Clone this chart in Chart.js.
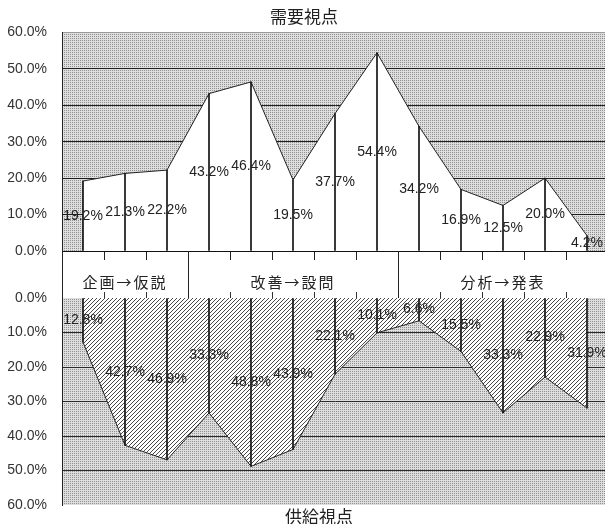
<!DOCTYPE html>
<html lang="ja">
<head>
<meta charset="utf-8">
<title>需要視点・供給視点</title>
<script src="https://cdn.jsdelivr.net/npm/chart.js@4.4.1/dist/chart.umd.min.js"></script>
<style>
  html, body { margin: 0; padding: 0; background: #fff; }
  body { width: 605px; height: 524px; overflow: hidden; position: relative; }
  #top-box { position: absolute; left: 0; top: 0; }
  #bottom-box { position: absolute; left: 0; top: 251px; }
</style>
</head>
<body>
<div id="top-box"><canvas id="demandChart" width="612" height="262"></canvas></div>
<div id="bottom-box"><canvas id="supplyChart" width="612" height="273"></canvas></div>
<script>
// 13 steps, no labels on the axis
const steps = ["1", "2", "3", "4", "5", "6", "7", "8", "9", "10", "11", "12", "13"];
const demandValues = [19.2, 21.3, 22.2, 43.2, 46.4, 19.5, 37.7, 54.4, 34.2, 16.9, 12.5, 20.0, 4.2];
const supplyValues = [12.8, 42.7, 46.9, 33.3, 48.8, 43.9, 22.1, 10.1, 6.6, 15.5, 33.3, 22.9, 31.9];
const phaseNames = ["企画→仮説", "改善→設問", "分析→発表"];
const phaseSizes = [3, 5, 5];
const yTicks = [0, 10, 20, 30, 40, 50, 60];

const topTitle = "需要視点";
const bottomTitle = "供給視点";

const numFont = "'Liberation Sans', Arial, sans-serif";
const jpFont = "'Noto Sans CJK JP', 'Noto Sans', sans-serif";

// gray dotted background like the old excel fill
function dotPattern() {
    const c = document.createElement("canvas");
    c.width = 2; c.height = 2;
    const g = c.getContext("2d");
    g.fillStyle = "#dedede";
    g.fillRect(0, 0, 2, 2);
    g.fillStyle = "#909090";
    g.fillRect(0, 0, 1, 1);
    return g.createPattern(c, "repeat");
}

// diagonal hatching for the supply area
function hatchPattern() {
    const c = document.createElement("canvas");
    c.width = 4; c.height = 4;
    const g = c.getContext("2d");
    g.fillStyle = "#ffffff";
    g.fillRect(0, 0, 4, 4);
    g.fillStyle = "#4a4a4a";
    for (let i = 0; i < 4; i++) {
        g.fillRect(i, 3 - i, 1, 1);
    }
    return g.createPattern(c, "repeat");
}

const plotBackground = {
    id: "plotBackground",
    beforeDraw(chart) {
        const a = chart.chartArea;
        const ctx = chart.ctx;
        ctx.save();
        ctx.fillStyle = dotPattern();
        ctx.fillRect(a.left, a.top, a.right - a.left, a.bottom - a.top);
        ctx.restore();
    }
};

const valueLabels = {
    id: "valueLabels",
    afterDatasetsDraw(chart) {
        const meta = chart.getDatasetMeta(0);
        const values = chart.data.datasets[0].data;
        const base = chart.scales.y.getPixelForValue(0);
        const ctx = chart.ctx;
        ctx.save();
        ctx.font = "14px " + numFont;
        ctx.fillStyle = "#222";
        ctx.textAlign = "center";
        ctx.textBaseline = "middle";
        meta.data.forEach((pt, i) => {
            ctx.fillText(values[i].toFixed(1) + "%", pt.x, (pt.y + base) / 2);
        });
        ctx.restore();
    }
};

const phaseBand = {
    id: "phaseBand",
    afterDraw(chart) {
        const x = chart.scales.x;
        const a = chart.chartArea;
        const ctx = chart.ctx;
        const half = (x.getPixelForValue(1) - x.getPixelForValue(0)) / 2;
        ctx.save();
        ctx.strokeStyle = "#222";
        ctx.lineWidth = 1;

        ctx.beginPath();
        const lx = Math.round(a.left) + 0.5;
        ctx.moveTo(lx, 0);
        ctx.lineTo(lx, a.top);
        ctx.stroke();

        ctx.font = "15px " + jpFont;
        ctx.fillStyle = "#222";
        ctx.textAlign = "center";
        ctx.textBaseline = "middle";
        try { ctx.letterSpacing = "2px"; } catch (e) {}

        let start = 0;
        phaseSizes.forEach((size, i) => {
            const x0 = x.getPixelForValue(start) - half;
            const x1 = x.getPixelForValue(start + size - 1) + half;
            if (start > 0) {
                const sx = Math.round(x0) + 0.5;
                ctx.beginPath();
                ctx.moveTo(sx, 0);
                ctx.lineTo(sx, a.top);
                ctx.stroke();
            }
            ctx.fillText(phaseNames[i], (x0 + x1) / 2, a.top - 16);
            start += size;
        });

        try { ctx.letterSpacing = "0px"; } catch (e) {}
        ctx.font = "17px " + jpFont;
        ctx.fillText(bottomTitle, chart.width / 2 + 13, 266);
        ctx.restore();
    }
};

// y axis: labels pushed left with an invisible tick, so no extra padding is reserved
function percentAxis(reverse, gridColor) {
    return {
        min: 0,
        max: 60,
        reverse: reverse,
        afterBuildTicks: s => { s.ticks = yTicks.map(v => ({ value: v })); },
        ticks: {
            padding: 0,
            color: "#333",
            font: { family: numFont, size: 14 },
            callback: v => v.toFixed(1) + "%"
        },
        grid: {
            drawTicks: true,
            tickLength: 15,
            tickColor: "rgba(0,0,0,0)",
            color: gridColor
        },
        border: { display: true, color: "#222" },
        afterFit: s => { s.width = 62; }
    };
}

const demandChart = new Chart(document.getElementById("demandChart"), {
    type: "bar",
    data: {
        labels: steps,
        datasets: [{
            type: "line",
            data: demandValues,
            borderColor: "#222",
            borderWidth: 1,
            backgroundColor: "#ffffff",
            fill: "origin",
            pointRadius: 0,
            tension: 0,
            order: 2
        }, {
            type: "bar",
            data: demandValues,
            backgroundColor: "#111",
            barThickness: 1,
            order: 1
        }]
    },
    options: {
        responsive: false,
        devicePixelRatio: 1,
        animation: false,
        events: [],
        layout: { padding: { left: 0, right: 4, top: 0, bottom: 0 } },
        plugins: {
            legend: { display: false },
            tooltip: { enabled: false },
            title: {
                display: true,
                text: topTitle,
                color: "#222",
                font: { family: jpFont, size: 17, weight: "normal", lineHeight: 1.2 },
                padding: { top: 6, bottom: 6 }
            }
        },
        scales: {
            x: {
                offset: true,
                ticks: { display: false },
                grid: { offset: true, drawOnChartArea: false, drawTicks: true, tickLength: 9, color: "#222" },
                border: { display: true, color: "#111" },
                afterFit: s => { s.height = 11; }
            },
            y: percentAxis(false, c => c.tick && c.tick.value === 60 ? "#9a9a9a" : "#1e1e1e")
        }
    },
    plugins: [plotBackground, valueLabels]
});

const supplyChart = new Chart(document.getElementById("supplyChart"), {
    type: "bar",
    data: {
        labels: steps,
        datasets: [{
            type: "line",
            data: supplyValues,
            borderColor: "#222",
            borderWidth: 1,
            backgroundColor: hatchPattern(),
            fill: "origin",
            pointRadius: 0,
            tension: 0,
            order: 2
        }, {
            type: "bar",
            data: supplyValues,
            backgroundColor: "#111",
            barThickness: 1,
            order: 1
        }]
    },
    options: {
        responsive: false,
        devicePixelRatio: 1,
        animation: false,
        events: [],
        layout: { padding: { left: 0, right: 4, top: 0, bottom: 19 } },
        plugins: {
            legend: { display: false },
            tooltip: { enabled: false }
        },
        scales: {
            x: {
                position: "top",
                offset: true,
                ticks: { display: false },
                grid: { offset: true, drawOnChartArea: false, drawTicks: true, tickLength: 6, color: "#333" },
                border: { display: false },
                afterFit: s => { s.height = 47; }
            },
            y: percentAxis(true, c => c.tick && (c.tick.value === 0 || c.tick.value === 60) ? "rgba(0,0,0,0)" : "#2a2a2a")
        }
    },
    plugins: [plotBackground, valueLabels, phaseBand]
});
</script>
</body>
</html>
